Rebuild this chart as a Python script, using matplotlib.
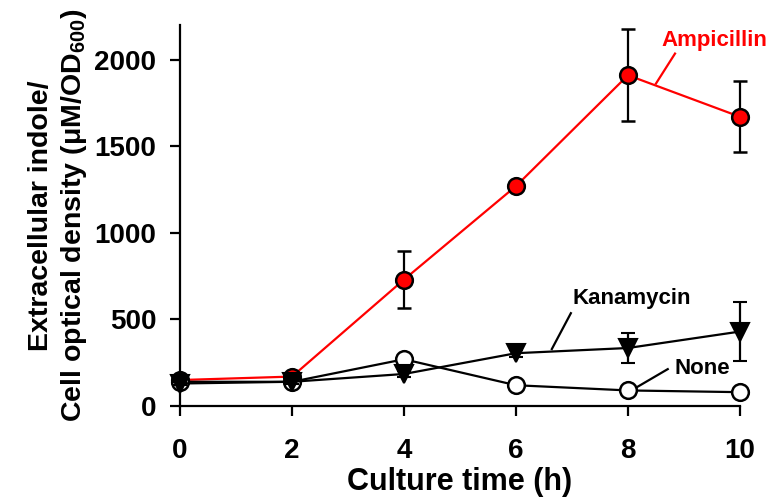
import matplotlib
matplotlib.use('Agg')
import matplotlib.pyplot as plt

plt.rcParams['font.family'] = ['Liberation Sans', 'DejaVu Sans']
plt.rcParams['font.weight'] = 'bold'
plt.rcParams['mathtext.fontset'] = 'custom'
plt.rcParams['mathtext.rm'] = 'Liberation Sans:bold'
plt.rcParams['mathtext.default'] = 'rm'

hours = [0, 2, 4, 6, 8, 10]

amp = [150, 170, 730, 1270, 1910, 1670]
amp_err = [15, 15, 165, 25, 265, 205]

kan = [130, 140, 185, 305, 335, 430]
kan_err = [10, 10, 20, 20, 85, 170]

none = [140, 140, 270, 120, 90, 80]
none_err = [10, 10, 15, 10, 10, 10]

fig = plt.figure(figsize=(7.75, 5.04), dpi=100)
ax = fig.add_axes([0.2323, 0.1944, 0.7225, 0.756])

ebkw = dict(ecolor='black', elinewidth=1.6, capsize=5, capthick=1.6, clip_on=False)

ax.errorbar(hours, amp, yerr=amp_err, color='red', lw=1.6, marker='o', ms=12,
            mfc='red', mec='black', mew=1.8, zorder=3, **ebkw)
ax.errorbar(hours, none, yerr=none_err, color='black', lw=1.6, marker='o', ms=12,
            mfc='white', mec='black', mew=1.8, zorder=3, **ebkw)
ax.errorbar(hours, kan, yerr=kan_err, color='black', lw=1.6, marker='v', ms=13,
            mfc='black', mec='black', mew=1.5, zorder=4, **ebkw)

ax.set_xlim(0, 10)
ax.set_ylim(0, 2200)
ax.set_xticks(hours)
ax.set_yticks([0, 500, 1000, 1500, 2000])
for s in ['top', 'right']:
    ax.spines[s].set_visible(False)
for s in ['left', 'bottom']:
    ax.spines[s].set_linewidth(1.6)
ax.tick_params(width=1.6, length=7, labelsize=20, direction='out')
ax.tick_params(axis='x', pad=16)
ax.tick_params(axis='y', pad=10)

ax.set_xlabel('Culture time (h)', fontsize=22, fontweight='bold', labelpad=2)
ax.set_ylabel('Extracellular indole/\nCell optical density (μM/OD$_{600}$)',
              fontsize=20.5, fontweight='bold', labelpad=4, linespacing=1.2)

# series labels with leader lines
ax.plot([8.84, 8.50], [2035, 1862], color='red', lw=1.6, clip_on=False)
ax.text(9.55, 2110, 'Ampicillin', color='red', fontsize=16, fontweight='bold',
        ha='center', va='center')
ax.plot([6.98, 6.64], [536, 329], color='black', lw=1.6, clip_on=False)
ax.text(8.07, 622, 'Kanamycin', color='black', fontsize=16, fontweight='bold',
        ha='center', va='center')
ax.plot([8.71, 8.07], [213, 92], color='black', lw=1.6, clip_on=False)
ax.text(9.32, 219, 'None', color='black', fontsize=16, fontweight='bold',
        ha='center', va='center')

fig.savefig('out.png', dpi=100)
